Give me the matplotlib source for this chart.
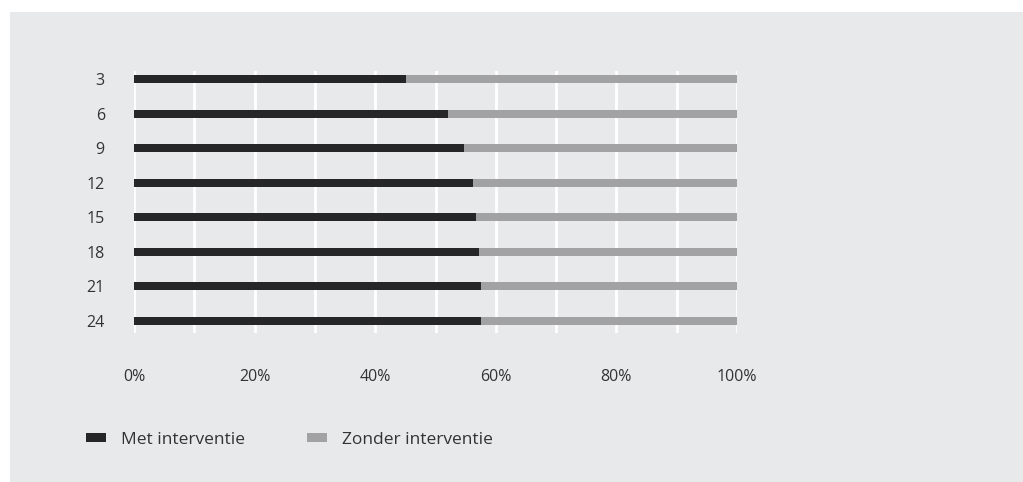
import matplotlib
matplotlib.use("Agg")
import matplotlib.pyplot as plt
from matplotlib.patches import Rectangle, Patch

categories = ["3", "6", "9", "12", "15", "18", "21", "24"]
met_interventie = [45.1, 52.1, 54.7, 56.2, 56.7, 57.2, 57.5, 57.5]
zonder_interventie = [100 - v for v in met_interventie]
xtick_values = [0, 20, 40, 60, 80, 100]
xtick_labels = ["0%", "20%", "40%", "60%", "80%", "100%"]
series_names = ["Met interventie", "Zonder interventie"]

DARK = "#262628"
GRAY = "#a2a2a5"
PANEL = "#e8e9eb"
TEXT = "#333335"

plt.rcParams["font.family"] = ["Open Sans", "DejaVu Sans"]
W, H = 1023, 482
fig = plt.figure(figsize=(W / 100, H / 100), dpi=100)
fig.patch.set_facecolor("white")
fig.add_artist(Rectangle((10 / W, 0), 1 - 10 / W, 1 - 12 / H,
                         transform=fig.transFigure, facecolor=PANEL,
                         edgecolor="none", zorder=0))

left, right, top, bottom = 134, 737, 71, 333
ax = fig.add_axes([left / W, 1 - bottom / H, (right - left) / W, (bottom - top) / H])
ax.set_facecolor(PANEL)
for s in ax.spines.values():
    s.set_visible(False)

y = list(range(len(categories)))
bh = 0.23
ax.barh(y, met_interventie, height=bh, color=DARK, zorder=3)
ax.barh(y, zonder_interventie, left=met_interventie, height=bh, color=GRAY, zorder=3)

ax.set_xlim(0, 100)
ax.set_ylim(7 + 12 / 34.57, -8 / 34.57)
ax.set_xticks(xtick_values)
ax.set_xticklabels(xtick_labels)
ax.set_xticks(range(0, 101, 10), minor=True)
ax.set_yticks(y)
ax.set_yticklabels(categories)
ax.grid(axis="x", which="both", color="white", linewidth=2, zorder=1)
ax.tick_params(axis="both", which="both", length=0, labelsize=11.5, labelcolor=TEXT)
ax.tick_params(axis="x", pad=26)
ax.tick_params(axis="y", pad=21)

fs = 12.5
fpx = fs * 100 / 72
handles = [Patch(facecolor=DARK, edgecolor="none"), Patch(facecolor=GRAY, edgecolor="none")]
leg = fig.legend(handles, series_names, loc="center left",
                 bbox_to_anchor=(86 / W, 1 - 440 / H), ncol=2, frameon=False,
                 fontsize=fs, handlelength=20 / fpx, handleheight=7 / fpx,
                 handletextpad=15 / fpx, columnspacing=62 / fpx, borderpad=0, borderaxespad=0,
                 labelcolor=TEXT)

fig.savefig("out.png", dpi=100, facecolor="white")
